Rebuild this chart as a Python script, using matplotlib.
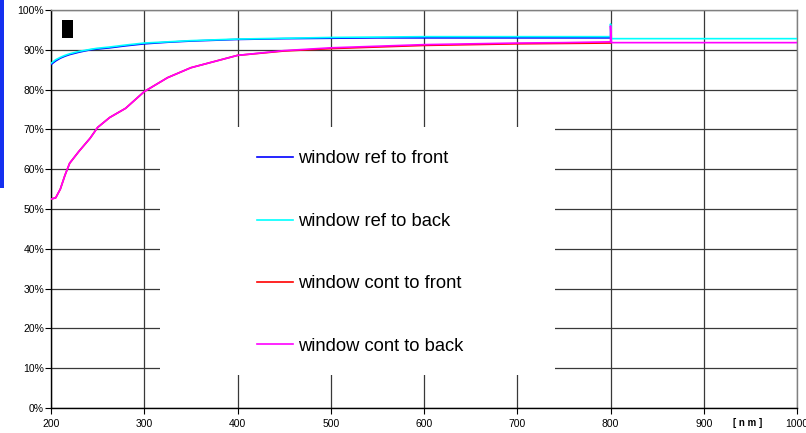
import matplotlib as mpl

mpl.use("Agg")

import matplotlib.pyplot as plt
from matplotlib.patches import Rectangle

plt.rcParams["font.family"] = ["Liberation Sans", "DejaVu Sans"]
plt.rcParams["figure.dpi"] = 100

# Transmission data (%), front measurements stop at 800 nm
wl_front = [200, 205, 210, 215, 220, 230, 242, 250, 263, 280, 300, 325, 350,
            400, 450, 500, 550, 600, 650, 700, 750, 799, 800]
wl_back = wl_front + [800, 801, 850, 900, 950, 1000]

ref_front = [86.3, 87.2, 87.9, 88.4, 88.8, 89.4, 90.0, 90.2, 90.5, 91.0, 91.5, 91.9, 92.2,
             92.6, 92.8, 92.9, 93.0, 93.0, 93.0, 93.0, 93.0, 93.0, 93.0]
ref_back = [86.6, 87.5, 88.1, 88.6, 89.0, 89.6, 90.1, 90.4, 90.7, 91.2, 91.7, 92.0, 92.3,
            92.7, 92.9, 93.1, 93.2, 93.3, 93.3, 93.3, 93.3, 93.3, 93.3,
            96.5, 92.8, 92.8, 92.8, 92.8, 92.8]
cont_front = [52.5, 52.8, 55.0, 58.5, 61.5, 64.5, 67.8, 70.5, 73.0, 75.3, 79.5, 83.0, 85.5,
              88.6, 89.7, 90.3, 90.7, 91.1, 91.3, 91.5, 91.6, 91.7, 91.7]
cont_back = [52.5, 52.8, 55.0, 58.5, 61.5, 64.5, 67.8, 70.5, 73.0, 75.3, 79.5, 83.0, 85.5,
             88.6, 89.8, 90.5, 90.9, 91.3, 91.5, 91.7, 91.8, 92.0, 92.0,
             96.0, 91.8, 91.8, 91.8, 91.8, 91.8]

series = [
    ("window ref to front", wl_front, ref_front, "#0000ff"),
    ("window ref to back", wl_back, ref_back, "#00ffff"),
    ("window cont to front", wl_front, cont_front, "#ff0000"),
    ("window cont to back", wl_back, cont_back, "#ff00ff"),
]

x_ticks = list(range(200, 1001, 100))
y_ticks = list(range(0, 101, 10))

fig = plt.figure(figsize=(8.06, 4.33))
ax = fig.add_axes([51 / 806, 1 - 408 / 433, 746 / 806, 398 / 433])

for label, x, y, color in series:
    ax.plot(x, y, color=color, linewidth=1.2, label=label, zorder=3)

ax.set_xlim(200, 1000)
ax.set_ylim(0, 100)
ax.set_xticks(x_ticks)
ax.set_yticks(y_ticks)
ax.set_yticklabels([f"{v}%" for v in y_ticks])
ax.tick_params(labelsize=7.5, length=4, width=0.8, direction="out")
ax.tick_params(axis="y", pad=1)
ax.tick_params(axis="x", pad=4)
ax.grid(True, color="#383838", linewidth=0.9, zorder=1)
ax.set_axisbelow(True)

for side in ("left", "bottom"):
    ax.spines[side].set_color("black")
    ax.spines[side].set_linewidth(1.0)
for side in ("top", "right"):
    ax.spines[side].set_color("#808080")
    ax.spines[side].set_linewidth(1.0)

# white area behind the legend, hides the grid
ax.add_patch(Rectangle((0.146, 0.083), 0.53, 0.623, transform=ax.transAxes,
                       facecolor="white", edgecolor="none", zorder=2))

ax.legend(loc="upper left", bbox_to_anchor=(0.276, 0.647), frameon=False,
          fontsize=13.2, labelspacing=2.48, handlelength=1.95, handletextpad=0.28,
          borderpad=0, borderaxespad=0)

fig.text(748 / 806, 1 - 423 / 433, "[ n m ]", ha="center", va="center",
         fontsize=7, fontweight="bold")

# side marker and small black block
fig.patches.append(Rectangle((0, 1 - 188 / 433), 4 / 806, 188 / 433,
                             transform=fig.transFigure, facecolor="#1530f0",
                             edgecolor="none"))
fig.patches.append(Rectangle((62 / 806, 1 - 38 / 433), 11 / 806, 18 / 433,
                             transform=fig.transFigure, facecolor="black",
                             edgecolor="none"))

fig.savefig("out.png", dpi=100)
